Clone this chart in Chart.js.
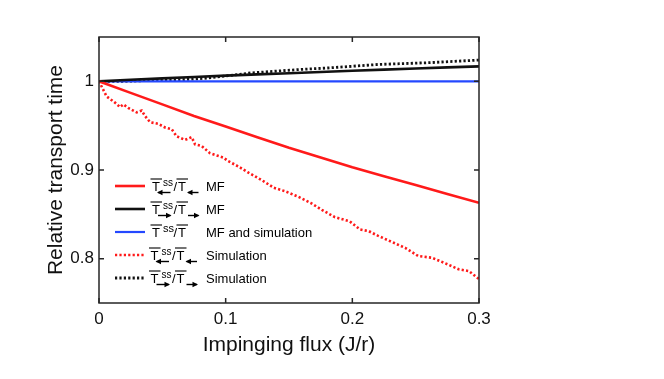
<!DOCTYPE html>
<html>
<head>
<meta charset="utf-8">
<script src="https://cdn.jsdelivr.net/npm/chart.js@4/dist/chart.umd.min.js"></script>
<style>
html, body { margin: 0; padding: 0; background: #fff; }
</style>
</head>
<body>
<canvas id="graph_data" width="664" height="379"></canvas>
<script>
// x values of the mean-field curves
var fluxMF = [0, 0.025, 0.05, 0.075, 0.1, 0.125, 0.15, 0.175, 0.2, 0.225, 0.25, 0.275, 0.3];
var mfLeft = [1, 0.987, 0.974, 0.961, 0.949, 0.937, 0.925, 0.914, 0.903, 0.893, 0.883, 0.873, 0.863];
var mfRight = [1, 1.0017, 1.0033, 1.0049, 1.0064, 1.0078, 1.0092, 1.0106, 1.0119, 1.0132, 1.0145, 1.0157, 1.0169];
var mfBoth = [1, 1, 1, 1, 1, 1, 1, 1, 1, 1, 1, 1, 1];

// simulation, left-moving
var fluxSimLeft = [0, 0.006, 0.0126, 0.0166, 0.0192, 0.0231, 0.0297, 0.0337, 0.0363, 0.0403, 0.0468, 0.0521,
    0.0574, 0.0613, 0.0679, 0.0732, 0.0758, 0.0811, 0.0876, 0.0916, 0.0982, 0.102, 0.110, 0.118, 0.128, 0.138,
    0.147, 0.157, 0.167, 0.176, 0.186, 0.198, 0.206, 0.213, 0.220, 0.231, 0.242, 0.252, 0.263, 0.273, 0.284, 0.292, 0.3];
var simLeft = [1.000, 0.983, 0.976, 0.971, 0.974, 0.970, 0.965, 0.967, 0.961, 0.954, 0.952, 0.948,
    0.946, 0.938, 0.934, 0.937, 0.929, 0.927, 0.919, 0.917, 0.914, 0.910, 0.904, 0.897, 0.889, 0.880,
    0.876, 0.870, 0.863, 0.855, 0.847, 0.842, 0.833, 0.831, 0.826, 0.819, 0.812, 0.803, 0.801, 0.795, 0.788, 0.786, 0.777];

// simulation, right-moving
var fluxSimRight = [0, 0.02, 0.04, 0.06, 0.08, 0.1, 0.12, 0.14, 0.16, 0.18, 0.2, 0.22, 0.24, 0.26, 0.28, 0.3];
var simRight = [1.000, 1.000, 1.001, 1.0015, 1.003, 1.006, 1.0095, 1.0115, 1.0135, 1.015, 1.017, 1.019, 1.020, 1.021, 1.0225, 1.024];

var xTicks = [0, 0.1, 0.2, 0.3];
var yTicks = [0.8, 0.9, 1];
var legendText = ["MF", "MF", "MF and simulation", "Simulation", "Simulation"];

function pairs(xs, ys){
    return xs.map(function(x, i){ return {x: x, y: ys[i]}; });
}

function fmt(v){
    if(v === 0) return "0";
    if(v === 1) return "1";
    return v.toFixed(1);
}

// box around the plot with inward ticks
var boxPlugin = {
    id: 'box',
    afterDraw: function(chart){
        var ctx = chart.ctx;
        var a = chart.chartArea;
        var xs = chart.scales.x, ys = chart.scales.y;
        ctx.save();
        ctx.strokeStyle = '#262626';
        ctx.lineWidth = 1.5;
        ctx.strokeRect(a.left, a.top, a.right - a.left, a.bottom - a.top);
        ctx.beginPath();
        xTicks.forEach(function(v){
            var px = xs.getPixelForValue(v);
            ctx.moveTo(px, a.bottom); ctx.lineTo(px, a.bottom - 5);
            ctx.moveTo(px, a.top); ctx.lineTo(px, a.top + 5);
        });
        yTicks.forEach(function(v){
            var py = ys.getPixelForValue(v);
            ctx.moveTo(a.left, py); ctx.lineTo(a.left + 5, py);
            ctx.moveTo(a.right, py); ctx.lineTo(a.right - 5, py);
        });
        ctx.stroke();
        ctx.restore();
    }
};

function arrow(ctx, x1, x2, y, dir){
    ctx.beginPath();
    ctx.lineWidth = 1.4;
    ctx.moveTo(x1, y); ctx.lineTo(x2, y);
    ctx.stroke();
    var tip = dir < 0 ? x1 - 1 : x2 + 1;
    ctx.beginPath();
    ctx.moveTo(tip, y);
    ctx.lineTo(tip - dir * 5.5, y - 2.8);
    ctx.lineTo(tip - dir * 5.5, y + 2.8);
    ctx.closePath();
    ctx.fill();
}

function barT(ctx, x, y){
    ctx.font = '13px "Liberation Sans", Arial, sans-serif';
    ctx.fillText('T', x, y + 5);
    ctx.beginPath();
    ctx.lineWidth = 1.1;
    ctx.moveTo(x - 1.5, y - 7); ctx.lineTo(x + 10, y - 7);
    ctx.stroke();
}

// legend with the ratio symbols
var legendPlugin = {
    id: 'ratioLegend',
    afterDraw: function(chart){
        var ctx = chart.ctx;
        ctx.save();
        chart.data.datasets.forEach(function(ds, i){
            var y = 186 + i * 23;
            ctx.strokeStyle = ds.borderColor;
            ctx.lineWidth = ds.borderWidth;
            ctx.setLineDash(ds.borderDash || []);
            ctx.beginPath();
            ctx.moveTo(115, y); ctx.lineTo(145, y);
            ctx.stroke();
            ctx.setLineDash([]);

            ctx.fillStyle = '#000';
            ctx.strokeStyle = '#000';
            ctx.textBaseline = 'alphabetic';
            ctx.textAlign = 'left';
            var tx = i >= 3 ? 150.5 : 152;
            barT(ctx, tx, y);
            ctx.font = (ds.dir ? '10px' : '11px') + ' "Liberation Sans", Arial, sans-serif';
            ctx.fillText('ss', tx + 11, y - 0.5);
            ctx.font = '13px "Liberation Sans", Arial, sans-serif';
            ctx.fillText('/', tx + 21.5, y + 5);
            barT(ctx, tx + 26, y);
            if(ds.dir){
                arrow(ctx, tx + 6, tx + 18.5, y + 6.5, ds.dir);
                arrow(ctx, tx + 36, tx + 46.5, y + 6.5, ds.dir);
            }
            ctx.font = '13px "Liberation Sans", Arial, sans-serif';
            ctx.fillText(legendText[i], 206, y + 5);
        });
        ctx.restore();
    }
};

function graph(){
    var data = {
        datasets: [{
            data: pairs(fluxMF, mfLeft),
            borderColor: '#ff1a1a',
            borderWidth: 2.6,
            dir: -1
        }, {
            data: pairs(fluxMF, mfRight),
            borderColor: '#111111',
            borderWidth: 2.6,
            dir: 1
        }, {
            data: pairs(fluxMF, mfBoth),
            borderColor: '#2448ff',
            borderWidth: 2.2,
            dir: 0
        }, {
            data: pairs(fluxSimLeft, simLeft),
            borderColor: '#ff1a1a',
            borderWidth: 2.6,
            borderDash: [2.2, 2.2],
            dir: -1
        }, {
            data: pairs(fluxSimRight, simRight),
            borderColor: '#111111',
            borderWidth: 2.8,
            borderDash: [2.2, 2.2],
            dir: 1
        }]
    };

    var tickFont = {family: '"Liberation Sans", Arial, sans-serif', size: 17};
    var titleFont = {family: '"Liberation Sans", Arial, sans-serif', size: 21};

    var cfg = {
        type: 'line',
        data: data,
        options: {
            responsive: false,
            animation: false,
            elements: {
                point: {radius: 0},
                line: {tension: 0, borderCapStyle: 'butt'}
            },
            layout: {padding: {top: 37, right: 185, left: 0, bottom: 0}},
            plugins: {
                legend: {display: false},
                tooltip: {enabled: false}
            },
            scales: {
                x: {
                    type: 'linear',
                    min: 0,
                    max: 0.3,
                    grid: {display: false, drawTicks: false},
                    border: {display: false},
                    afterBuildTicks: function(s){ s.ticks = xTicks.map(function(v){ return {value: v}; }); },
                    afterFit: function(s){ s.height = 76; },
                    ticks: {font: tickFont, color: '#111', padding: 6, maxRotation: 0, callback: fmt},
                    title: {display: true, text: 'Impinging flux (J/r)', font: titleFont, color: '#111', padding: {top: 0, bottom: 21}}
                },
                y: {
                    min: 0.75,
                    max: 1.05,
                    grid: {display: false, drawTicks: false},
                    border: {display: false},
                    afterBuildTicks: function(s){ s.ticks = yTicks.map(function(v){ return {value: v}; }); },
                    afterFit: function(s){ s.width = 99; },
                    ticks: {font: tickFont, color: '#111', padding: 5, callback: fmt},
                    title: {display: true, text: 'Relative transport time', font: titleFont, color: '#111', padding: {top: 44, bottom: 0}}
                }
            }
        },
        plugins: [boxPlugin, legendPlugin]
    };

    new Chart(document.getElementById('graph_data'), cfg);
}

graph();
</script>
</body>
</html>
